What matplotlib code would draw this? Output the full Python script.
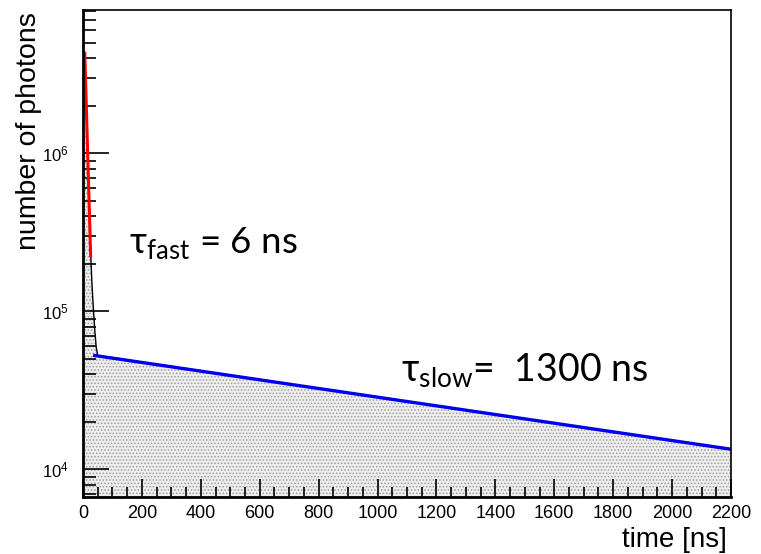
import matplotlib
matplotlib.use("Agg")
import matplotlib.pyplot as plt
import numpy as np

# histogram contents (time in ns, photon counts)
hist_time = [0, 5, 10, 15, 20, 25, 30, 35, 40, 45, 50,
             100, 200, 300, 400, 500, 600, 700, 800, 900, 1000, 1100,
             1200, 1300, 1400, 1500, 1600, 1700, 1800, 1900, 2000, 2100, 2200]
hist_counts = [4.4e6, 4.3e6, 2.3e6, 1.1e6, 5.4e5, 2.6e5, 1.55e5, 1.05e5, 7.6e4, 5.9e4, 5.25e4,
               5.09e4, 4.77e4, 4.48e4, 4.20e4, 3.94e4, 3.70e4, 3.47e4, 3.26e4, 3.06e4, 2.87e4, 2.69e4,
               2.53e4, 2.37e4, 2.22e4, 2.09e4, 1.96e4, 1.84e4, 1.72e4, 1.62e4, 1.52e4, 1.42e4, 1.34e4]

# fit curves (straight on log scale, so the end points are enough)
fast_fit_time = [6, 26]
fast_fit_counts = [4.3e6, 2.25e5]
slow_fit_time = [40, 2200]
slow_fit_counts = [5.25e4, 1.34e4]

fast_label = r'τ$_{\mathregular{fast}}$ = 6 ns'
slow_label = r'τ$_{\mathregular{slow}}$=  1300 ns'

plt.rcParams['font.family'] = ['Liberation Sans', 'DejaVu Sans']
plt.rcParams['mathtext.fontset'] = 'custom'
plt.rcParams['mathtext.rm'] = 'Liberation Sans'
plt.rcParams['hatch.linewidth'] = 0.7

fig = plt.figure(figsize=(7.61, 5.54), dpi=100)
ax = fig.add_axes([83/761, 1-497/554, 648/761, 487/554])

#histogram: dotted grey fill + thin black outline
ax.fill_between(hist_time, hist_counts, 1, facecolor='#ededed', edgecolor='#9c9c9c',
                hatch='.....', linewidth=0)
ax.plot(hist_time, hist_counts, color='black', lw=1.0)

#fits
ax.plot(fast_fit_time, fast_fit_counts, color='#ff0000', lw=2.2)
ax.plot(slow_fit_time, slow_fit_counts, color='#0000ee', lw=2.4)

ax.set_yscale('log')
ax.set_xlim(0, 2200)
ax.set_ylim(6680, 8.07e6)

ax.set_xticks(np.arange(0, 2201, 200))
ax.set_xticks(np.arange(0, 2201, 50), minor=True)

for s in ['top', 'right']:
    ax.spines[s].set_linewidth(1.2)
for s in ['left', 'bottom']:
    ax.spines[s].set_linewidth(2.0)

ax.tick_params(axis='x', which='major', direction='in', length=13, width=1.2,
               labelsize=13, pad=6)
ax.tick_params(axis='x', which='minor', direction='in', length=7, width=1.2)
ax.tick_params(axis='y', which='major', direction='in', length=19, width=1.2,
               labelsize=12, pad=10)
ax.tick_params(axis='y', which='minor', direction='in', length=9, width=1.2)

ax.set_xlabel('time [ns]', fontsize=20, loc='right')
ax.xaxis.set_label_coords(0.993, -0.062)
ax.set_ylabel('number of photons', fontsize=20.5, loc='top')
ax.yaxis.set_label_coords(-0.063, 0.996)

calibri_like = ['Lato', 'Open Sans', 'DejaVu Sans']
ax.text(0.071, 0.50, fast_label, transform=ax.transAxes, fontsize=26.5,
        family=calibri_like)
ax.text(0.49, 0.236, slow_label, transform=ax.transAxes, fontsize=27,
        family=calibri_like)

fig.savefig('out.png', dpi=100)
